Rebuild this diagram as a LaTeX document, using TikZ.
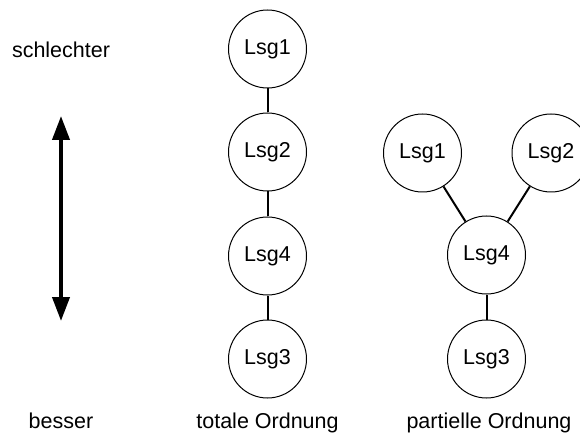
\documentclass[tikz,border=0pt]{standalone}
\usepackage{fontspec}
\setmainfont{Liberation Sans}
\usetikzlibrary{arrows.meta}
\begin{document}
\begin{tikzpicture}[x=1pt,y=-1pt,
  lsg/.style={circle,draw,line width=1pt,minimum size=78pt,inner sep=0pt,font=\fontsize{21.5}{25}\selectfont},
  lbl/.style={font=\fontsize{21.5}{25}\selectfont,inner sep=0pt,anchor=base},
  conn/.style={line width=2pt},
  dbl/.style={line width=4pt,{Triangle[length=24pt,width=17pt]}-{Triangle[length=24pt,width=17pt]}}]
\useasboundingbox (0,0) rectangle (580,435);
% left
\node[lbl] (schl) at (61,58) {schlechter};
\node[lbl] (bess) at (61,428) {besser};
\coordinate (atop) at (61,116);
\coordinate (abot) at (61,321);
\draw[dbl] (atop) -- (abot);
% total order
\node[lsg] (t1) at (267.5,49) {Lsg1};
\node[lsg] (t2) at (267.5,152) {Lsg2};
\node[lsg] (t4) at (267.5,256) {Lsg4};
\node[lsg] (t3) at (267.5,359) {Lsg3};
\draw[conn] (t1) -- (t2);
\draw[conn] (t2) -- (t4);
\draw[conn] (t4) -- (t3);
\node[lbl] (tot) at (267.5,428) {totale Ordnung};
% partial order
\node[lsg] (p1) at (422.5,153) {Lsg1};
\node[lsg] (p2) at (551,153) {Lsg2};
\node[lsg] (p4) at (486.5,255) {Lsg4};
\node[lsg] (p3) at (486.5,359) {Lsg3};
\draw[conn] (p1) -- (p4);
\draw[conn] (p2) -- (p4);
\draw[conn] (p4) -- (p3);
\node[lbl] (par) at (489,428) {partielle Ordnung};
\end{tikzpicture}
\end{document}
